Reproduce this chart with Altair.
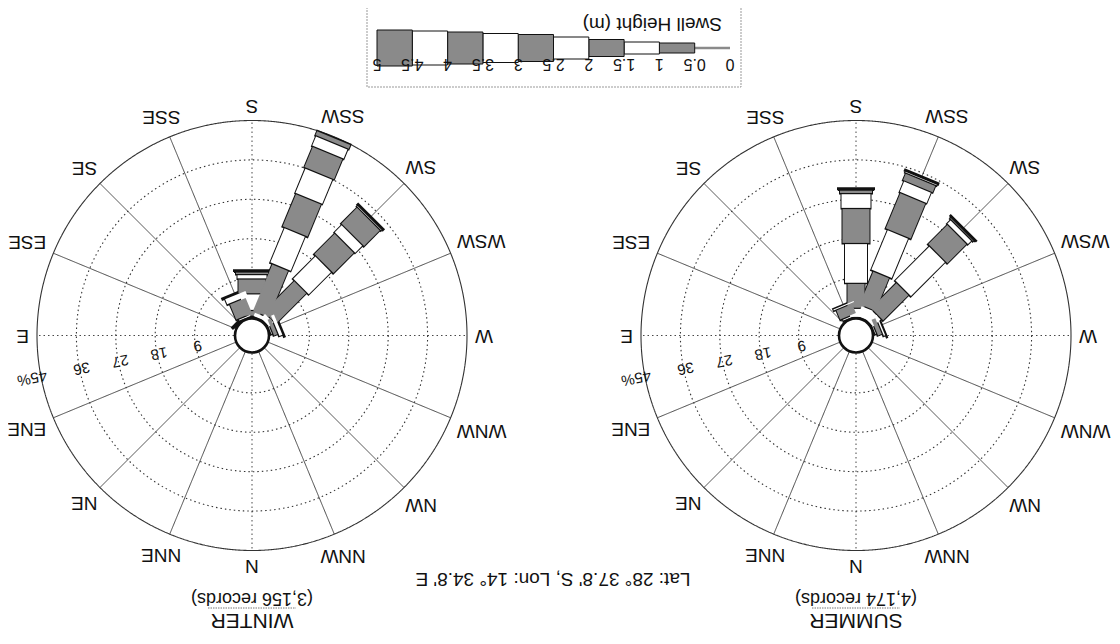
import math
import altair as alt
import pandas as pd

# ---------------- data ----------------
DIRECTIONS = ["N", "NNE", "NE", "ENE", "E", "ESE", "SE", "SSE",
              "S", "SSW", "SW", "WSW", "W", "WNW", "NW", "NNW"]
BIN_EDGES = [0, 0.5, 1, 1.5, 2, 2.5, 3, 3.5, 4, 4.5, 5]
BIN_LABELS = ["0", "0.5", "1", "1.5", "2", "2.5", "3", "3.5", "4", "4.5", "5"]
RING_PCTS = [9, 18, 27, 36, 45]
RING_LABELS = ["9", "18", "27", "36", "45%"]
SEASONS = ["WINTER", "SUMMER"]
RECORDS = ["(3,156 records)", "(4,174 records)"]
LOCATION = "Lat: 28° 37.8' S, Lon: 14° 34.8' E"
LEGEND_TITLE = "Swell Height (m)"

# frequency (%) per swell-height bin (0-0.5, 0.5-1, ... 4.5-5 m)
WINTER_S = [0, 0, 0.3, 1.3, 3.8, 3.4, 1.0, 0.6, 0.2, 0.2]
WINTER_SSW = [0, 0, 1.1, 11.7, 8.7, 8.2, 6.2, 5.2, 2.5, 1.2]
WINTER_SW = [0, 0, 1.6, 10.0, 7.4, 6.8, 2.5, 5.3, 0.4, 0.3]
WINTER_SSE = [0, 0, 0.5, 4.0, 1.5, 0.3, 0, 0, 0, 0]
WINTER_WSW = [0, 0, 0.4, 1.1, 1.0, 0.2, 0, 0, 0, 0]
WINTER_SE = [0, 0, 0.1, 0.3, 0, 0, 0, 0, 0, 0]

SUMMER_S = [0, 0, 2.1, 5.7, 9.1, 8.0, 3.4, 0.8, 0.2, 0.2]
SUMMER_SSW = [0, 0, 2.7, 8.3, 10.0, 8.9, 2.8, 1.8, 0.4, 0.3]
SUMMER_SW = [0, 0, 2.6, 8.4, 11.2, 6.4, 1.3, 0.4, 0.2, 0.1]
SUMMER_SSE = [0, 0, 0.5, 2.5, 0.5, 0, 0, 0, 0, 0]
SUMMER_WSW = [0, 0, 0.4, 1.2, 0.6, 0.1, 0, 0, 0, 0]

ROSES = {
    "WINTER": {"S": WINTER_S, "SSW": WINTER_SSW, "SW": WINTER_SW,
               "SSE": WINTER_SSE, "WSW": WINTER_WSW, "SE": WINTER_SE},
    "SUMMER": {"S": SUMMER_S, "SSW": SUMMER_SSW, "SW": SUMMER_SW,
               "SSE": SUMMER_SSE, "WSW": SUMMER_WSW},
}

# ---------------- layout / style ----------------
W, H = 1104, 628
CENTERS = {"WINTER": (252, 335.5), "SUMMER": (856, 335.5)}
R_IN, R_OUT = 18, 215
K = (R_OUT - R_IN) / 45.0
BAR_W = [2, 10, 12, 17, 22, 27, 29, 32, 34, 36]
GREY = "#8a8a8a"
FILLS = [GREY if (b % 2 == 1 or b == 0) else "white" for b in range(10)]
FONT = "Liberation Sans, Arial, sans-serif"
ROT = 180  # the whole figure is shown upside down


def polar(cx, cy, bearing, r):
    phi = math.radians(bearing + ROT)
    return cx + r * math.sin(phi), cy - r * math.cos(phi)


XS = alt.Scale(domain=[8, 8 + W], range=[0, W], nice=False, zero=False)
YS = alt.Scale(domain=[8, 8 + H], range=[0, H], nice=False, zero=False)


def X(f="x"):
    return alt.X(f"{f}:Q", scale=XS, axis=None)


def Y(f="y"):
    return alt.Y(f"{f}:Q", scale=YS, axis=None)


# spokes
spokes = []
for s in SEASONS:
    cx, cy = CENTERS[s]
    for i, d in enumerate(DIRECTIONS):
        x0, y0 = polar(cx, cy, i * 22.5, R_IN)
        x1, y1 = polar(cx, cy, i * 22.5, R_OUT)
        spokes.append(dict(x=x0, y=y0, x2=x1, y2=y1,
                           kind="dot" if i % 4 == 0 else "solid"))
spokes = pd.DataFrame(spokes)

# rings
rings = []
for s in SEASONS:
    cx, cy = CENTERS[s]
    for p in RING_PCTS:
        r = R_IN + p * K
        rings.append(dict(x=cx, y=cy, sz=(2 * r) ** 2,
                          kind="solid" if p == 45 else "dot"))
rings = pd.DataFrame(rings)

# bars
outl, fills = [], []
for s, table in ROSES.items():
    cx, cy = CENTERS[s]
    for d, vals in table.items():
        bearing = DIRECTIONS.index(d) * 22.5
        cum = 0.0
        for b, v in enumerate(vals):
            if v <= 0:
                continue
            r0 = R_IN + cum * K
            r1 = R_IN + (cum + v) * K
            cum += v
            x0, y0 = polar(cx, cy, bearing, r0 - 1)
            x1, y1 = polar(cx, cy, bearing, r1 + 1)
            outl.append(dict(x=x0, y=y0, x2=x1, y2=y1, w=BAR_W[b] + 2))
            if r1 - r0 > 1.4:
                x0, y0 = polar(cx, cy, bearing, r0 + 0.6)
                x1, y1 = polar(cx, cy, bearing, r1 - 0.6)
                fills.append(dict(x=x0, y=y0, x2=x1, y2=y1, w=BAR_W[b], c=FILLS[b]))
outl = pd.DataFrame(outl)
fills = pd.DataFrame(fills)

# centre circles
centres = pd.DataFrame([dict(x=CENTERS[s][0], y=CENTERS[s][1]) for s in SEASONS])

# compass labels
CW = {"N": 0.722, "S": 0.667, "E": 0.667, "W": 0.944}
LFS = 19
clabels = []
for s in SEASONS:
    cx, cy = CENTERS[s]
    for i, d in enumerate(DIRECTIONS):
        phi = math.radians(i * 22.5 + ROT)
        hw = sum(CW[c] for c in d) * LFS / 2
        r = R_OUT + 8 + hw * abs(math.sin(phi)) + 7 * abs(math.cos(phi))
        x, y = polar(cx, cy, i * 22.5, r)
        clabels.append(dict(x=x, y=y, t=d))
clabels = pd.DataFrame(clabels)

# ring labels
rlabels = []
for s in SEASONS:
    cx, cy = CENTERS[s]
    for p, t in zip(RING_PCTS, RING_LABELS):
        r = R_IN + p * K - 2 if p < 45 else R_OUT + 9
        x, y = polar(cx, cy, 79, r)
        rlabels.append(dict(x=x, y=y, t=t))
rlabels = pd.DataFrame(rlabels)

# season titles
titles = pd.DataFrame([dict(x=CENTERS[s][0], y=620, t=s) for s in SEASONS])
recs = pd.DataFrame([dict(x=CENTERS[s][0], y=598, t=r) for s, r in zip(SEASONS, RECORDS)])
unders = pd.DataFrame([dict(x=CENTERS[s][0] - 44, x2=CENTERS[s][0] + 44, y=608) for s in SEASONS])
loc = pd.DataFrame([dict(x=553, y=579, t=LOCATION)])

# legend
LEG_X0, LEG_PX = 730, 70.6
LEG_Y = 48


def lx(h):
    return LEG_X0 - h * LEG_PX


leg_bars = pd.DataFrame([dict(x=lx(BIN_EDGES[b]), x2=lx(BIN_EDGES[b + 1]),
                              y=LEG_Y - BAR_W[b] / 2, y2=LEG_Y + BAR_W[b] / 2, c=FILLS[b])
                         for b in range(1, 10)])
leg_line = pd.DataFrame([dict(x=lx(BIN_EDGES[0]), x2=lx(BIN_EDGES[1]), y=LEG_Y)])
leg_labels = pd.DataFrame([dict(x=lx(h), y=64, t=t) for h, t in zip(BIN_EDGES, BIN_LABELS)])
leg_box = pd.DataFrame([dict(x=lx(BIN_EDGES[-1]) - 10, x2=lx(BIN_EDGES[0]) + 11, y=7, y2=87)])
leg_title = pd.DataFrame([dict(x=722, y=24, t=LEGEND_TITLE)])

DASH = alt.StrokeDash("kind:N", scale=alt.Scale(domain=["solid", "dot"],
                                                  range=[[1, 0], [1.5, 3]]), legend=None)

layers = [
    alt.Chart(rings).mark_point(shape="circle", filled=False, color="#333",
                                strokeWidth=1.1, opacity=1).encode(
        x=X(), y=Y(), size=alt.Size("sz:Q", scale=None), strokeDash=DASH),
    alt.Chart(spokes).mark_rule(color="#333", strokeWidth=0.9).encode(
        x=X(), y=Y(), x2="x2:Q", y2="y2:Q", strokeDash=alt.StrokeDash(
            "kind:N", scale=alt.Scale(domain=["solid", "dot"], range=[[1, 0], [2, 2]]), legend=None)),
    alt.Chart(outl).mark_rule(color="#111", strokeCap="butt").encode(
        x=X(), y=Y(), x2="x2:Q", y2="y2:Q", size=alt.Size("w:Q", scale=None)),
    alt.Chart(fills).mark_rule(strokeCap="butt").encode(
        x=X(), y=Y(), x2="x2:Q", y2="y2:Q", size=alt.Size("w:Q", scale=None),
        color=alt.Color("c:N", scale=None)),
    alt.Chart(centres).mark_point(shape="circle", filled=True, fill="white", stroke="#111",
                                  strokeWidth=2.6, size=(2 * 17) ** 2, opacity=1).encode(
        x=X(), y=Y()),
    alt.Chart(clabels).mark_text(angle=180, font=FONT, fontSize=LFS, color="#111",
                                 align="center", baseline="middle").encode(
        x=X(), y=Y(), text="t:N"),
    alt.Chart(rlabels).mark_text(angle=169, font=FONT, fontSize=15, color="#111",
                                 align="center", baseline="middle").encode(
        x=X(), y=Y(), text="t:N"),
    alt.Chart(titles).mark_text(angle=180, font=FONT, fontSize=21, color="#111",
                                align="center", baseline="middle").encode(
        x=X(), y=Y(), text="t:N"),
    alt.Chart(recs).mark_text(angle=180, font=FONT, fontSize=18, color="#111",
                              align="center", baseline="middle").encode(
        x=X(), y=Y(), text="t:N"),
    alt.Chart(unders).mark_rule(color="#777", strokeWidth=1, strokeDash=[1.5, 1]).encode(
        x=X(), x2="x2:Q", y=Y()),
    alt.Chart(loc).mark_text(angle=180, font=FONT, fontSize=19, color="#111",
                             align="center", baseline="middle").encode(
        x=X(), y=Y(), text="t:N"),
    alt.Chart(leg_box).mark_rect(fill="white", stroke="#999", strokeWidth=1,
                                 strokeDash=[2, 1]).encode(
        x=X(), x2="x2:Q", y=Y(), y2="y2:Q"),
    alt.Chart(leg_line).mark_rule(color=GREY, strokeWidth=2.5).encode(
        x=X(), x2="x2:Q", y=Y()),
    alt.Chart(leg_bars).mark_rect(stroke="#111", strokeWidth=1).encode(
        x=X(), x2="x2:Q", y=Y(), y2="y2:Q", fill=alt.Fill("c:N", scale=None)),
    alt.Chart(leg_labels).mark_text(angle=180, font=FONT, fontSize=16, color="#111",
                                    align="center", baseline="middle").encode(
        x=X(), y=Y(), text="t:N"),
    alt.Chart(leg_title).mark_text(angle=180, font=FONT, fontSize=19, color="#111",
                                   align="left", baseline="middle").encode(
        x=X(), y=Y(), text="t:N"),
]

chart = alt.layer(*layers).properties(
    width=W, height=H, autosize=alt.AutoSizeParams(type="none"), padding=0,
    background="white",
).configure_view(stroke=None)

chart.save("out.html", embed_options={"renderer": "svg", "actions": False})
